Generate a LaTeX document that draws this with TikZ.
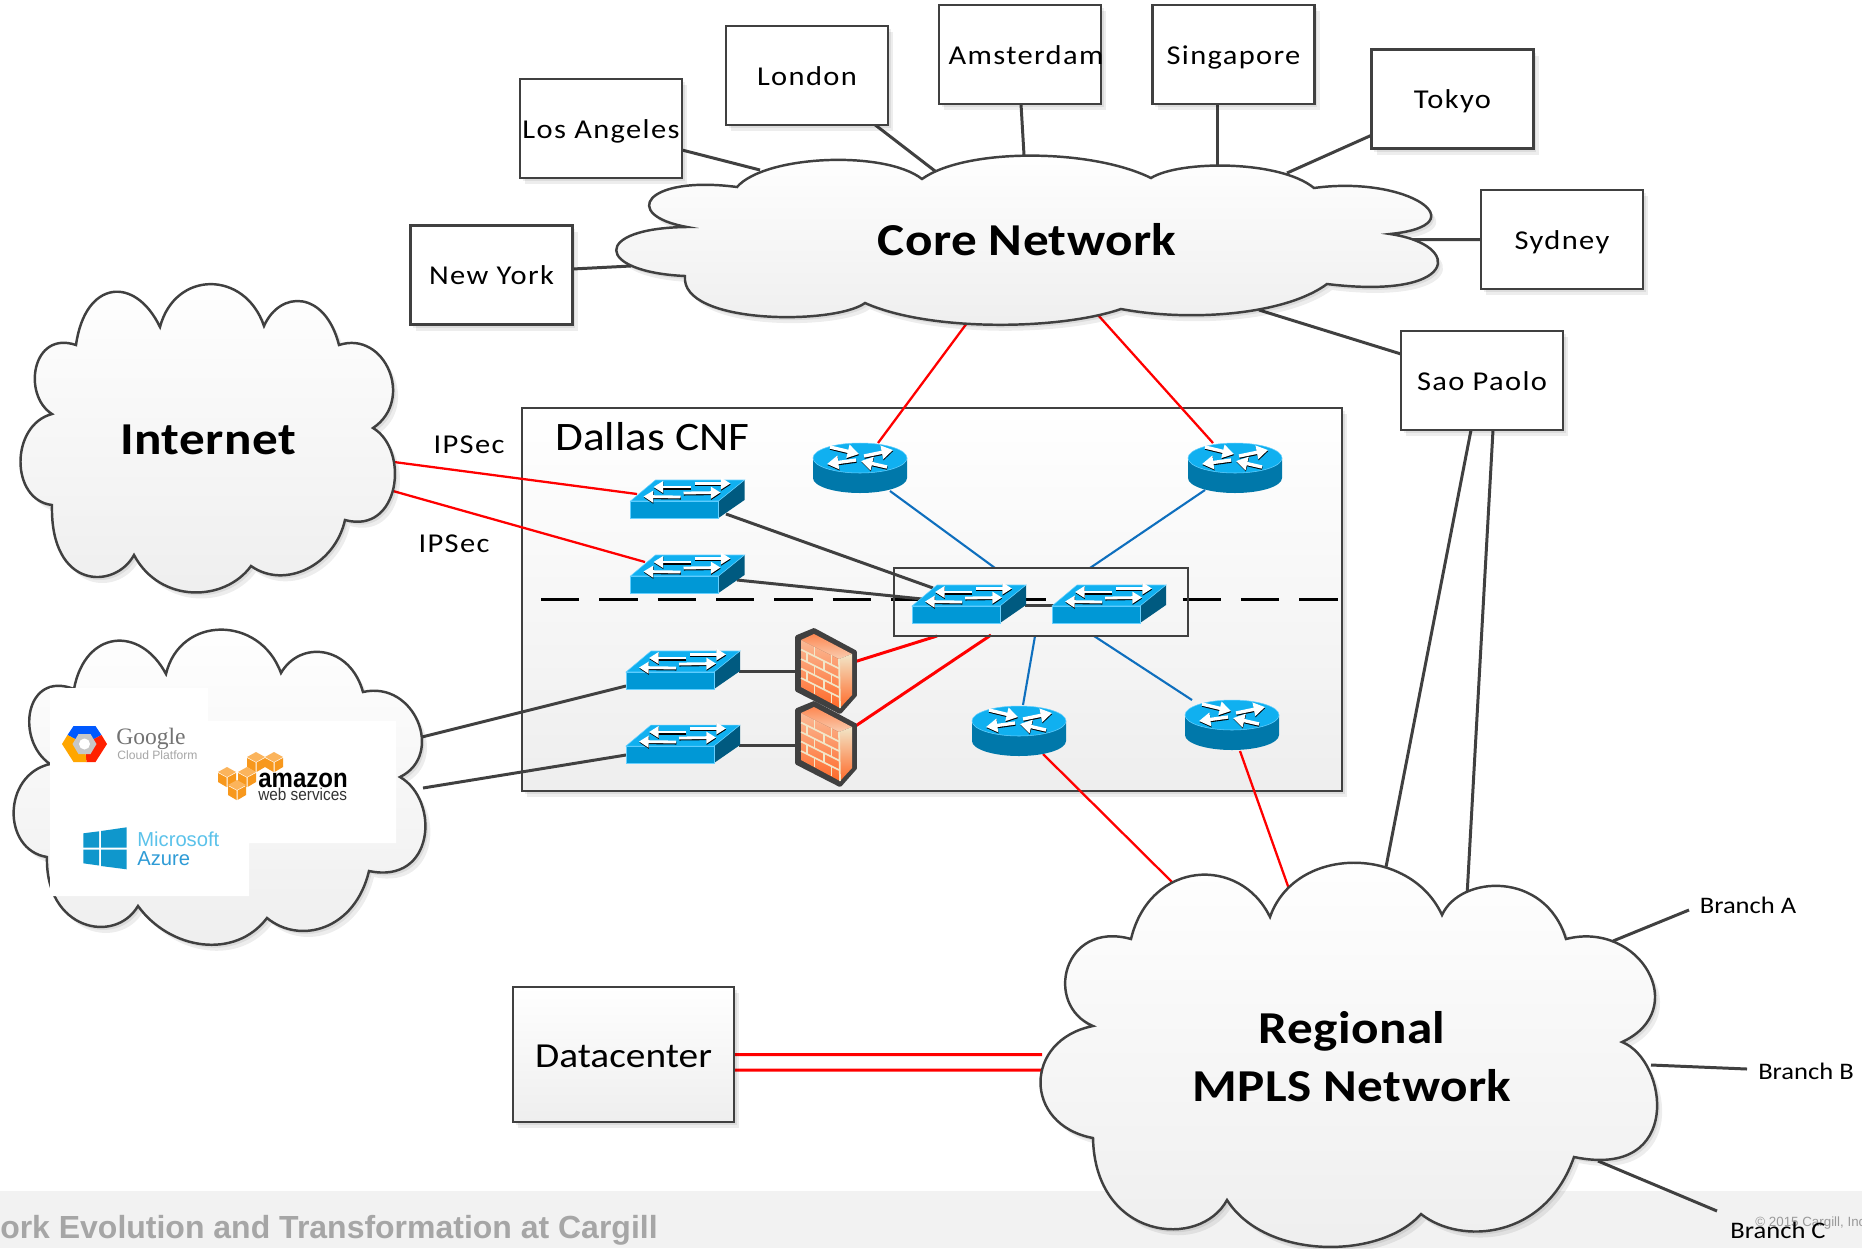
\documentclass[tikz,border=0pt]{standalone}
\usepackage{fontspec}
\setmainfont{Carlito}[FakeStretch=1.12]
\newfontfamily\spaced{Carlito}[FakeStretch=1.12,LetterSpace=5]
\newfontfamily\bigf{Carlito}[FakeStretch=1.12,LetterSpace=1]
\newfontfamily\arialf{Liberation Sans}
\newfontfamily\arialc{Liberation Sans}[FakeStretch=.9]
\newfontfamily\serff{Liberation Serif}
\usetikzlibrary{arrows.meta,calc}
\definecolor{linegray}{HTML}{404040}
\definecolor{cloudgray}{HTML}{EEEEEE}
\definecolor{bandgray}{HTML}{F2F2F2}
\definecolor{netblue}{HTML}{0E6FBE}
\definecolor{swtop}{HTML}{10B0F0}
\definecolor{swfront}{HTML}{0098D6}
\definecolor{swside}{HTML}{005A80}
\definecolor{swedge}{HTML}{66D0FF}
\definecolor{rtside}{HTML}{0078AA}
\definecolor{cubeA}{HTML}{F7981D}
\definecolor{cubeB}{HTML}{FBB45C}
\definecolor{azdark}{HTML}{0F97CC}
\definecolor{azlight}{HTML}{5BC2EA}
\definecolor{azmid}{HTML}{2E9BD6}
\definecolor{fwA}{HTML}{FF6A2A}
\definecolor{fwB}{HTML}{F9CDB0}
\definecolor{fwC}{HTML}{F2E6C8}
\pgfdeclarelayer{bg}
\pgfdeclarelayer{conn}
\pgfsetlayers{bg,conn,main}
\tikzset{
  softsh/.style={
    preaction={fill=black,draw=none,opacity=.07,transform canvas={shift={(5,6)}}},
    preaction={fill=black,draw=none,opacity=.07,transform canvas={shift={(2.5,3)}}}},
  cloudst/.style={softsh,draw=linegray,line width=1.4pt,top color=white,bottom color=cloudgray,line join=miter},
  cbox/.style={draw=linegray,line width=1.2pt,fill=white,softsh,minimum width=162*0.02cm,minimum height=99*0.02cm,inner sep=0pt,
     font=\spaced\fontsize{15.5}{18}\selectfont,text height=13.2pt,text depth=2pt},
  dev/.style={inner sep=0pt,minimum size=0pt,outer sep=0pt},
  lab/.style={inner sep=0pt,font=\spaced\fontsize{15.5}{18}\selectfont,text height=13.2pt,text depth=2pt},
  blab/.style={inner sep=0pt,font=\fontsize{13.5}{16}\selectfont,text height=10.2pt,text depth=2pt},
  bigl/.style={inner sep=0pt,font=\bigf\fontsize{26}{33}\bfseries\selectfont,align=center},
  cdark/.style={draw=linegray,line width=1.7pt},
  cred/.style={draw=red,line width=1.3pt},
  credthick/.style={draw=red,line width=1.7pt},
  cblue/.style={draw=netblue,line width=1.2pt},
  swarrowwhite/.style={white,line width=1.6pt,-{Triangle[length=5.5pt,width=6.5pt]}},
  swarrowblack/.style={black,line width=1.6pt,-{Triangle[length=5.5pt,width=6.5pt]}},
  rtarrowwhite/.style={white,line width=1.9pt,-{Triangle[length=6.5pt,width=7.5pt]}},
  rtarrowblack/.style={black,line width=1.9pt,-{Triangle[length=6.5pt,width=7.5pt]}},
  mortar/.style={draw=fwC,line width=.9pt},
  fwoutline/.style={draw=linegray,line width=2.2pt,line join=round,fill=linegray},
}
\newcommand{\swarr}[2]{%
  \draw[swarrowblack] ($#1+(0.3,1.1)$) -- ($#2+(0.3,1.1)$);
  \draw[swarrowwhite] #1 -- #2;}
\newcommand{\rtarr}[2]{%
  \draw[rtarrowblack] ($#1+(0.3,1.1)$) -- ($#2+(0.3,1.1)$);
  \draw[rtarrowwhite] #1 -- #2;}
\newcommand{\switchdev}[2]{%
  \begin{scope}[shift={(#1-57,#2+19)}]
    \fill[swside] (88,-17) -- (114,-38) -- (114,-18) -- (88,0) -- cycle;
    \filldraw[fill=swfront,draw=swedge,line width=.3pt] (0,0) rectangle (88,-17);
    \filldraw[fill=swtop,draw=swedge,line width=.3pt] (0,-17) -- (25,-38) -- (114,-38) -- (88,-17) -- cycle;
    \swarr{(60,-31)}{(23,-31)}
    \swarr{(64,-34.5)}{(100,-34.5)}
    \swarr{(50,-21)}{(13,-21.5)}
    \swarr{(53,-25)}{(90,-25.5)}
  \end{scope}}
\newcommand{\routerdev}[2]{%
  \begin{scope}[shift={(#1,#2)}]
    \fill[rtside] (-47,0) -- (-47,20) arc[start angle=180,end angle=360,x radius=47,y radius=-15] -- (47,0) -- cycle;
    \filldraw[fill=swtop,draw=swedge,line width=.3pt] (0,0) ellipse[x radius=47,y radius=15];
    \rtarr{(-30,-11)}{(-1,-4)}
    \rtarr{(4,-2)}{(33,-8)}
    \rtarr{(-4,2)}{(-33,6)}
    \rtarr{(27,9)}{(1,3)}
  \end{scope}}
\newcommand{\firewalldev}[2]{%
  \begin{scope}[shift={(#1-29,#2-34)}]
    \path[fwoutline] (0,0) -- (17,-7) -- (58,15) -- (58,58) -- (43,75) -- (0,53) -- cycle;
    \shade[top color=fwA!70!fwB,bottom color=fwB] (4,3) -- (17,-3) -- (55,17) -- (42,22) -- cycle;
    \shade[top color=fwB!80!fwA,bottom color=fwA] (4,3) -- (42,22) -- (43,71) -- (4,50) -- cycle;
    \shade[top color=fwC,bottom color=fwA] (42,22) -- (55,17) -- (55,58) -- (43,71) -- cycle;
    \foreach \v in {.2,.4,.6,.8}
      \draw[mortar] ({4},{3+47.5*\v}) -- ({42},{22+47.5*\v});
    \foreach \u/\v in {.35/0,.15/.2,.6/.2,.35/.4,.8/.4,.15/.6,.6/.6,.35/.8,.8/.8,.8/0}
      \draw[mortar] ({4+38*\u},{3+19*\u+47.5*\v}) -- ({4+38*\u},{3+19*\u+47.5*(\v+.2)});
    \draw[fwC,line width=1pt] (42,22) -- (43,71);
  \end{scope}}
\newcommand{\cube}[2]{%
  \begin{scope}[shift={(#1,#2)}]
    \fill[cubeB] (0,-10) -- (9,-5) -- (0,0) -- (-9,-5) -- cycle;
    \fill[cubeA] (-9,-4) -- (-.5,.5) -- (-.5,10) -- (-9,5) -- cycle;
    \fill[cubeA] (9,-4) -- (.5,.5) -- (.5,10) -- (9,5) -- cycle;
  \end{scope}}
\newcommand{\corepath}{(737,187) .. controls (765,155) and (885,150) .. (922,179)
  .. controls (965,148) and (1090,148) .. (1151,178)
  .. controls (1180,160) and (1280,160) .. (1314,188)
  .. controls (1408,175) and (1480,225) .. (1390,234)
  .. controls (1465,245) and (1458,300) .. (1327,284)
  .. controls (1285,315) and (1190,322) .. (1121,309)
  .. controls (1060,330) and (930,332) .. (865,303)
  .. controls (835,325) and (680,325) .. (685,276)
  .. controls (595,272) and (591,228) .. (687,227)
  .. controls (620,215) and (645,175) .. (737,187) -- cycle}
\newcommand{\inetpath}{(76,345) .. controls (85,280) and (135,275) .. (160,327)
  .. controls (175,270) and (245,270) .. (264,326)
  .. controls (280,290) and (325,290) .. (339,345)
  .. controls (385,330) and (415,400) .. (373,428)
  .. controls (410,450) and (400,535) .. (345,520)
  .. controls (335,565) and (285,590) .. (251,566)
  .. controls (225,602) and (160,604) .. (134,555)
  .. controls (115,590) and (50,590) .. (52,505)
  .. controls (10,500) and (10,425) .. (52,414)
  .. controls (22,395) and (32,330) .. (76,345) -- cycle}
\newcommand{\svcpath}{(74,689) .. controls (85,630) and (140,625) .. (166,674)
  .. controls (180,615) and (260,615) .. (281,673)
  .. controls (300,640) and (350,645) .. (363,692)
  .. controls (415,680) and (445,755) .. (400,777)
  .. controls (440,800) and (435,885) .. (369,871)
  .. controls (355,930) and (300,945) .. (267,918)
  .. controls (235,960) and (170,950) .. (138,906)
  .. controls (115,945) and (45,930) .. (47,857)
  .. controls (2,850) and (2,775) .. (50,764)
  .. controls (15,740) and (25,670) .. (74,689) -- cycle}
\newcommand{\regpath}{(1131,939) .. controls (1150,860) and (1240,855) .. (1270,917)
  .. controls (1295,845) and (1410,845) .. (1442,915)
  .. controls (1460,875) and (1545,870) .. (1566,939)
  .. controls (1640,920) and (1692,1010) .. (1622,1042)
  .. controls (1668,1060) and (1684,1180) .. (1574,1157)
  .. controls (1545,1240) and (1460,1245) .. (1421,1214)
  .. controls (1380,1260) and (1265,1260) .. (1227,1200)
  .. controls (1200,1250) and (1095,1240) .. (1093,1138)
  .. controls (1023,1125) and (1023,1040) .. (1093,1026)
  .. controls (1043,1005) and (1063,920) .. (1131,939) -- cycle}
\begin{document}
\begin{tikzpicture}[x=0.02cm,y=-0.02cm]
\useasboundingbox (0,0) rectangle (1862,1248);
\begin{pgfonlayer}{bg}
  \fill[white] (0,0) rectangle (1862,1248);
  \fill[bandgray] (0,1191) rectangle (1862,1248);
  \node[anchor=east,inner sep=0pt,text=black!35,font=\arialf\bfseries\fontsize{18.2}{20}\selectfont] (bandtext) at (658,1230.5) {ork Evolution and Transformation at Cargill};
  \node[anchor=west,inner sep=0pt,text=black!40,font=\arialf\fontsize{7.6}{9}\selectfont] (copytext) at (1755,1223) {\textcopyright{} 2015 Cargill, Inc};
  \node[draw=linegray,line width=1.3pt,top color=white,bottom color=cloudgray,softsh,minimum width=820*0.02cm,minimum height=383*0.02cm,inner sep=0pt] (dallas) at (932,599.5) {};
\end{pgfonlayer}
% clouds
\path[cloudst] \corepath;
\path[cloudst] \inetpath;
\path[cloudst] \svcpath;
\path[cloudst] \regpath;
% logo panel
\fill[white] (50,688) -- (208,688) -- (208,721) -- (396,721) -- (396,843) -- (249,843) -- (249,896) -- (50,896) -- cycle;
% cities
\node[cbox] (ny) at (491.5,275) {New York};
\node[cbox] (la) at (601,128.5) {Los Angeles};
\node[cbox] (lon) at (807,75.5) {London};
\node[cbox] (ams) at (1020,54.5) {\makebox[0pt]{\hspace*{6.8pt}Amsterdam}};
\node[cbox] (sin) at (1233.5,54.5) {Singapore};
\node[cbox] (tok) at (1452.5,99) {Tokyo};
\node[cbox] (syd) at (1562,239.5) {Sydney};
\node[cbox] (sao) at (1482,380.5) {Sao Paolo};
\node[draw=linegray,line width=1.3pt,top color=white,bottom color=cloudgray,softsh,minimum width=221*0.02cm,minimum height=135*0.02cm,inner sep=0pt,font=\fontsize{20}{24}\selectfont,text height=15.3pt,text depth=0pt] (dc) at (623.5,1054.5) {Datacenter};
% cloud labels
\node[bigl] (core) at (1027,240) {Core Network};
\node[bigl] (inet) at (208,440) {Internet};
\node[bigl] (reg) at (1352,1057) {Regional\\MPLS Network};
\node[dev] (svc) at (217,785) {};
% other labels
\node[lab] (ipa) at (469,444) {IPSec};
\node[lab] (ipb) at (454,543) {IPSec};
\node[inner sep=0pt,anchor=west,font=\fontsize{23}{26}\selectfont] (dal) at (555,437) {Dallas CNF};
\node[blab] (bra) at (1748,906) {Branch A};
\node[blab] (brb) at (1806,1072) {Branch B};
\node[blab] (brc) at (1778,1231) {Branch C};
% device positions
\node[dev] (s1) at (687.5,499) {};
\node[dev] (s2) at (687.5,574) {};
\node[dev] (s3) at (969,604) {};
\node[dev] (s4) at (1109,604) {};
\node[dev] (s5) at (683,670) {};
\node[dev] (s6) at (683,744) {};
\node[dev] (r1) at (860,458) {};
\node[dev] (r2) at (1235,458) {};
\node[dev] (r3) at (1019,721) {};
\node[dev] (r4) at (1232,715) {};
\node[dev] (f1) at (826,671) {};
\node[dev] (f2) at (826,744) {};
\node[draw=linegray,line width=1.3pt,minimum width=294*0.02cm,minimum height=68*0.02cm,inner sep=0pt] (ibox) at (1041,602) {};
% devices
\switchdev{687.5}{499}
\switchdev{687.5}{574}
\switchdev{969}{604}
\switchdev{1109}{604}
\switchdev{683}{670}
\switchdev{683}{744}
\routerdev{860}{458}
\routerdev{1235}{458}
\routerdev{1019}{721}
\routerdev{1232}{715}
\firewalldev{826}{744}
\firewalldev{826}{671}
% connectors
\begin{pgfonlayer}{conn}
\coordinate (dashl) at (541,599.5);
\coordinate (dashr) at (1342,599.5);
\draw[black,line width=1.2pt,dash pattern=on 21.8pt off 11.4pt] (dashl) -- (dashr);
\draw[cdark] ($(ny)+(81,-6)$) -- ($(core)+(-396,26)$);
\draw[cdark] ($(la)+(81,21.5)$) -- ($(core)+(-267,-70)$);
\draw[cdark] ($(lon)+(67,48.5)$) -- ($(core)+(-92,-69)$);
\draw[cdark] ($(ams)+(1,49.5)$) -- ($(core)+(-3,-85)$);
\draw[cdark] ($(sin)+(-16.5,49.5)$) -- ($(core)+(190,-74)$);
\draw[cdark] ($(tok)+(-80.5,36)$) -- ($(core)+(260,-67)$);
\draw[cdark] ($(syd)+(-81,0)$) -- ($(core)+(385,-.5)$);
\draw[cdark] ($(sao)+(-81,-26.5)$) -- ($(core)+(232,70)$);
\draw[cred] ($(core)+(-60,83)$) -- ($(r1)+(18,-15)$);
\draw[cred] ($(core)+(71,75)$) -- ($(r2)+(-22,-15)$);
\draw[cblue] ($(r1)+(30,33)$) -- ($(ibox)+(-46,-34)$);
\draw[cblue] ($(r2)+(-30,32)$) -- ($(ibox)+(49,-34)$);
\draw[cblue] ($(ibox)+(-6,34)$) -- ($(r3)+(4,-16)$);
\draw[cblue] ($(ibox)+(53,34)$) -- ($(r4)+(-40,-15)$);
\draw[cred] ($(r3)+(24,33)$) -- ($(reg)+(-179,-174)$);
\draw[cred] ($(r4)+(8,36)$) -- ($(reg)+(-63,-168)$);
\draw[cdark] ($(s1)+(38.5,15)$) -- ($(s3)+(-36,-16)$);
\draw[cdark] ($(s2)+(49.5,6)$) -- ($(s3)+(-47,-5)$);
\draw[cdark] ($(s3)+(56,1)$) -- ($(s4)+(-55,1)$);
\draw[cred] ($(inet)+(186,22)$) -- ($(s1)+(-50.5,-5)$);
\draw[cred] ($(inet)+(185,51)$) -- ($(s2)+(-42.5,-12)$);
\draw[cdark] ($(s5)+(56,1)$) -- ($(f1)+(-29,0)$);
\draw[cdark] ($(s6)+(56,1)$) -- ($(f2)+(-29,1)$);
\draw[credthick] ($(f1)+(28,-9)$) -- ($(ibox)+(-104,34)$);
\draw[credthick] ($(f2)+(28,-17)$) -- ($(ibox)+(-50,33)$);
\draw[cdark] ($(svc)+(205,-48)$) -- ($(s5)+(-57,16)$);
\draw[cdark] ($(svc)+(206,3)$) -- ($(s6)+(-57,11)$);
\draw[credthick] ($(dc)+(110.5,0)$) -- ($(reg)+(-310,-2.5)$);
\draw[credthick] ($(dc)+(110.5,15.5)$) -- ($(reg)+(-310,13)$);
\draw[cdark] ($(sao)+(-11,49.5)$) -- ($(reg)+(34,-190)$);
\draw[cdark] ($(sao)+(11,49.5)$) -- ($(reg)+(115,-161)$);
\draw[cdark] ($(reg)+(261,-116)$) -- ($(bra)+(-59,4)$);
\draw[cdark] ($(reg)+(299,8)$) -- ($(brb)+(-59,-3)$);
\draw[cdark] ($(reg)+(246,104)$) -- ($(brc)+(-61,-20)$);
\end{pgfonlayer}
% Google logo
\begin{scope}[shift={(84.5,744)}]
  \fill[blue!65!cyan] (0,0) -- (-17,-9) -- (-11,-18) -- (11,-18) -- (17,-9) -- cycle;
  \fill[red!75!orange] (0,0) -- (17,-9) -- (22.5,0) -- (11,18) -- (2,18) -- cycle;
  \fill[orange!70!yellow] (0,0) -- (-17,-9) -- (-22.5,0) -- (-11,18) -- (2,18) -- cycle;
  \fill[black!22] (-12,0) -- (-6,-10) -- (6,-10) -- (12,0) -- (6,10) -- (-6,10) -- cycle;
  \fill[white] (0,0) circle (5.5);
\end{scope}
\node[anchor=west,inner sep=0pt,text=black!55,font=\serff\fontsize{13.4}{15}\selectfont] (goog) at (116,739) {Google};
\node[anchor=west,inner sep=0pt,text=black!35,font=\arialf\fontsize{6.9}{8}\selectfont] (gcp) at (117,755) {Cloud Platform};
% Amazon logo
\cube{256}{762}\cube{274}{762}\cube{247}{777}\cube{227}{777}\cube{237}{790}
\node[anchor=west,inner sep=0pt,text=black,font=\arialc\bfseries\fontsize{15.2}{17}\selectfont] (amz) at (258,780) {amazon};
\node[anchor=west,inner sep=0pt,text=black!80,font=\arialc\fontsize{9.7}{11}\selectfont] (aws) at (258,794) {web services};
% Azure logo
\fill[azdark] (83.3,833.3) -- (99,831.3) -- (99,847.5) -- (83.3,847.5) -- cycle;
\fill[azdark] (101,831) -- (126.7,827.3) -- (126.7,847.5) -- (101,847.5) -- cycle;
\fill[azdark] (83.3,849.5) -- (99,849.5) -- (99,865.5) -- (83.3,863.3) -- cycle;
\fill[azdark] (101,849.5) -- (126.7,849.5) -- (126.7,869.3) -- (101,866) -- cycle;
\node[anchor=west,inner sep=0pt,text=azlight,font=\arialf\fontsize{11.5}{13}\selectfont] (ms) at (137,839) {Microsoft};
\node[anchor=west,inner sep=0pt,text=azmid,font=\arialf\fontsize{11.5}{13}\selectfont] (az) at (137,859) {Azure};
\end{tikzpicture}
\end{document}
